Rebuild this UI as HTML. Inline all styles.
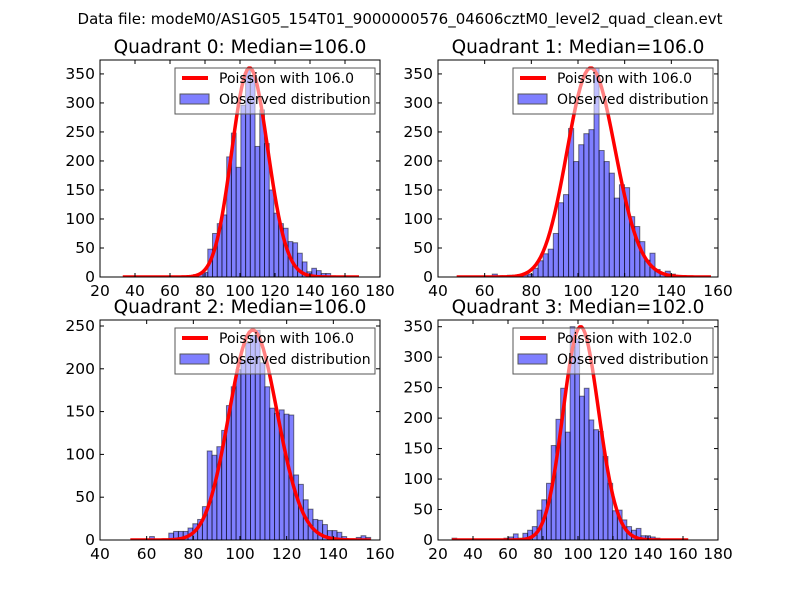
<!DOCTYPE html>
<html><head><meta charset="utf-8">
<style>
body{margin:0;background:#fff;}
svg text{font-family:"DejaVu Sans","Liberation Sans",sans-serif;}
</style></head>
<body>
<svg id="fig" width="800" height="600" xmlns="http://www.w3.org/2000/svg">
<rect width="800" height="600" fill="#fff"/>
<text x="400" y="24" font-size="15" text-anchor="middle">Data file: modeM0/AS1G05_154T01_9000000576_04606cztM0_level2_quad_clean.evt</text>
</svg>
<script>
// Quadrant 0
const q0Counts=[0,0,0,0,0,0,0,0,0,0,0,0,0,1,2,4,6,8,48,75,92,107,207,248,189,296,357,345,225,288,230,150,110,92,84,61,59,41,26,9,15,11,6,6,2,1,1,0,0,0];
// Quadrant 1
const q1Counts=[0,0,0,0,0,0,0,5,2,2,3,3,2,3,5,15,28,40,48,75,128,142,256,199,228,247,254,360,218,199,179,136,159,154,104,87,61,29,41,13,6,10,5,2,0,0,0,0,0,0];
// Quadrant 2
const q2Counts=[0,0,0,0,4,1,1,1,8,10,10,10,14,19,24,39,104,99,109,128,157,179,199,210,230,239,245,207,179,154,148,152,147,146,76,65,47,36,24,23,18,11,11,9,4,1,1,3,5,3];
// Quadrant 3
const q3Counts=[3,0,0,0,0,0,0,0,0,0,0,3,5,10,3,11,16,22,49,66,93,155,198,249,177,350,330,236,249,197,181,178,137,93,48,49,33,22,16,19,7,7,5,3,1,1,1,0,0,0];
const binStarts=[33,48,53,28];
const binEnds=[168,157,156,163];
const lambdas=[106,106,106,102];
const medianLabels=["106.0","106.0","106.0","102.0"];
const xTicks0=[20,40,60,80,100,120,140,160,180];
const xTicks1=[40,60,80,100,120,140,160];
const xTicks2=[40,60,80,100,120,140,160];
const xTicks3=[20,40,60,80,100,120,140,160,180];
const yTicks0=[0,50,100,150,200,250,300,350];
const yTicks1=[0,50,100,150,200,250,300,350];
const yTicks2=[0,50,100,150,200,250];
const yTicks3=[0,50,100,150,200,250,300,350];
const yMax=[374,374,257,361];
const totals=[9300,9300,6330,8860];

const NS="http://www.w3.org/2000/svg";
const svg=document.getElementById('fig');
function mk(t,a,p){const e=document.createElementNS(NS,t);for(const k in a)e.setAttribute(k,a[k]);(p||svg).appendChild(e);return e;}
function logPmf(k,l){let lf=0;for(let i=2;i<=k;i++)lf+=Math.log(i);return k*Math.log(l)-l-lf;}

const panels=[
 {counts:q0Counts,xt:xTicks0,yt:yTicks0,x0:100,y0:60,xmin:20,xmax:180},
 {counts:q1Counts,xt:xTicks1,yt:yTicks1,x0:438,y0:60,xmin:40,xmax:160},
 {counts:q2Counts,xt:xTicks2,yt:yTicks2,x0:100,y0:320,xmin:40,xmax:160},
 {counts:q3Counts,xt:xTicks3,yt:yTicks3,x0:438,y0:320,xmin:20,xmax:180}
];
const W=280,H=[217,217,220,220];
panels.forEach((p,qi)=>{
 const h=H[qi];
 const g=mk('g',{});
 
 
 const xs=v=>p.x0+(v-p.xmin)/(p.xmax-p.xmin)*W;
 const ys=v=>p.y0+h-v/yMax[qi]*h;
 const t=mk('text',{x:p.x0+W/2,y:p.y0-7,'font-size':18.5,'text-anchor':'middle'},g);
 t.textContent='Quadrant '+qi+': Median='+medianLabels[qi];
 
 
 const clip=mk('clipPath',{id:'c'+qi},g);
 mk('rect',{x:p.x0,y:p.y0,width:W,height:h},clip);
 const plot=mk('g',{'clip-path':'url(#c'+qi+')'},g);
 const bw=(binEnds[qi]-binStarts[qi])/p.counts.length;
 p.counts.forEach((c,i)=>{
   if(c<=0)return;
   const a=binStarts[qi]+i*bw;
   const r=mk('rect',{x:xs(a),y:ys(c),width:xs(a+bw)-xs(a),height:ys(0)-ys(c),fill:'rgba(0,0,255,0.5)',stroke:'rgba(0,0,0,0.5)','stroke-width':1},plot);
   
   
 });
 let d='';
 for(let k=Math.ceil(binStarts[qi]);k<=binEnds[qi];k++){
   const v=totals[qi]*Math.exp(logPmf(k,lambdas[qi]));
   d+=(d?'L':'M')+xs(k).toFixed(2)+','+ys(v).toFixed(2);
 }
 const ln=mk('path',{d:d,fill:'none',stroke:'#ff0000','stroke-width':3.5,'stroke-linejoin':'round'},plot);
 
 
 const fr=mk('rect',{x:p.x0,y:p.y0,width:W,height:h,fill:'none',stroke:'#000','stroke-width':1},g);
 
 
 p.xt.forEach(v=>{
   const x=xs(v);
   mk('line',{x1:x,x2:x,y1:p.y0+h,y2:p.y0+h-4,stroke:'#000'},g);
   mk('line',{x1:x,x2:x,y1:p.y0,y2:p.y0+4,stroke:'#000'},g);
   const tl=mk('text',{x:x,y:p.y0+h+19,'font-size':15.5,'text-anchor':'middle'},g);
   tl.textContent=v;
   
   
 });
 p.yt.forEach(v=>{
   const y=ys(v);
   mk('line',{x1:p.x0,x2:p.x0+4,y1:y,y2:y,stroke:'#000'},g);
   mk('line',{x1:p.x0+W,x2:p.x0+W-4,y1:y,y2:y,stroke:'#000'},g);
   const tl=mk('text',{x:p.x0-5,y:y+5,'font-size':15.5,'text-anchor':'end'},g);
   tl.textContent=v;
   
   
 });
 const lx=p.x0+75,ly=p.y0+8;
 const lg=mk('g',{},g);
 
 
 mk('rect',{x:lx,y:ly,width:200,height:46,fill:'rgba(255,255,255,0.5)',stroke:'#555','stroke-width':1},lg);
 mk('line',{x1:lx+7,x2:lx+33,y1:ly+10,y2:ly+10,stroke:'#ff0000','stroke-width':4},lg);
 const l1=mk('text',{x:lx+44,y:ly+15,'font-size':14},lg);
 l1.textContent='Poission with '+lambdas[qi].toFixed(1);
 
 
 mk('rect',{x:lx+5,y:ly+26,width:29,height:10,fill:'rgba(0,0,255,0.5)',stroke:'#555'},lg);
 const l2=mk('text',{x:lx+44,y:ly+36,'font-size':14},lg);
 l2.textContent='Observed distribution';
 
 
});
</script>
</body></html>
